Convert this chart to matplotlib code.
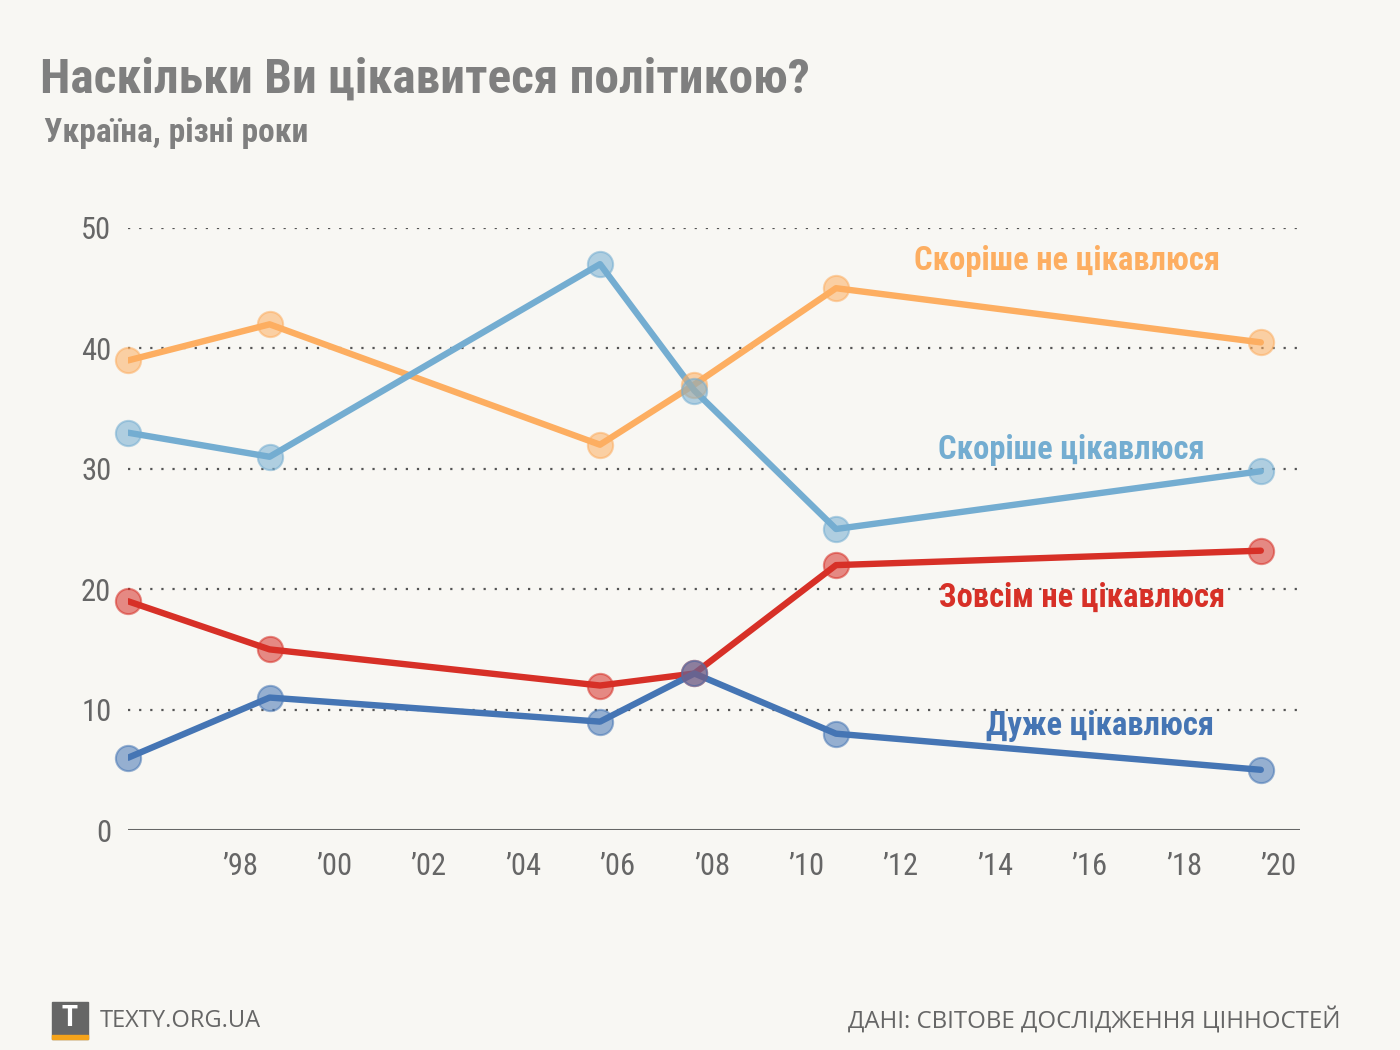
import matplotlib
matplotlib.use('Agg')
import matplotlib.pyplot as plt
from matplotlib import font_manager
from matplotlib.patches import Rectangle
import numpy as np

# Survey years (World Values Survey / EVS waves, Ukraine)
years = [1996, 1999, 2006, 2008, 2011, 2020]

# Share of respondents, %
very = [6, 11, 9, 13, 8, 5]                    # Дуже цікавлюся
rather = [33, 31, 47, 36.5, 25, 29.8]          # Скоріше цікавлюся
rather_not = [39, 42, 32, 37, 45, 40.5]        # Скоріше не цікавлюся
not_at_all = [19, 15, 12, 13, 22, 23.2]        # Зовсім не цікавлюся

series_names = ['Скоріше не цікавлюся', 'Скоріше цікавлюся',
                'Зовсім не цікавлюся', 'Дуже цікавлюся']
series_colors = ['#fdae61', '#74add1', '#d73027', '#4575b4']

tick_years = list(range(1998, 2021, 2))
tick_labels = ['\u2019' + str(y)[2:] for y in tick_years]
y_ticks = [0, 10, 20, 30, 40, 50]

BG = '#f8f7f3'

# pick a narrow font if one is around
names = set(f.name for f in font_manager.fontManager.ttflist)
narrow = 'DejaVu Sans'
for cand in ['Liberation Sans Narrow', 'Roboto Condensed', 'Open Sans Condensed',
             'Noto Sans Condensed', 'DejaVu Sans Condensed']:
    if cand in names:
        narrow = cand
        break
regular = 'Open Sans' if 'Open Sans' in names else 'DejaVu Sans'

plt.rcParams['font.family'] = [narrow, 'DejaVu Sans']

fig = plt.figure(figsize=(14, 10.5), dpi=100, facecolor=BG)
ax = fig.add_axes([128 / 1400, 220 / 1050, 1172 / 1400, 602 / 1050])
ax.set_facecolor(BG)

ax.set_xlim(1996, 2020.83)
ax.set_ylim(0, 50)

# dotted grid lines + solid baseline
for v in y_ticks[1:]:
    ax.axhline(v, color='#555555', lw=1.6, ls=(0, (1, 4)), zorder=1)
ax.axhline(0, color='#666666', lw=2.2, zorder=1)

data = [rather_not, rather, not_at_all, very]
for vals, col in zip(data, series_colors):
    ax.plot(years, vals, color=col, lw=4.6, solid_capstyle='round',
            solid_joinstyle='round', zorder=3)
for vals, col in zip(data, series_colors):
    ax.scatter(years, vals, s=330, color=col, alpha=0.55, edgecolor=col,
               linewidth=1.5, zorder=4, clip_on=False)

# series labels
label_pos = [(2019.13, 47.3), (2018.8, 31.6), (2019.24, 19.3), (2019.0, 8.6)]
for name, col, (lx, ly) in zip(series_names, series_colors, label_pos):
    ax.text(lx, ly, name, color=col, fontsize=23.5, fontweight='bold',
            ha='right', va='center')

# ticks: labels sit a little to the right of the year mark
ax.set_xticks([y + 0.37 for y in tick_years])
ax.set_xticklabels(tick_labels)
ax.set_yticks(y_ticks)
ax.tick_params(axis='both', length=0, labelsize=22, colors='#666666')
ax.tick_params(axis='x', pad=16)
ax.tick_params(axis='y', pad=12)
for s in ax.spines.values():
    s.set_visible(False)

# titles
fig.text(40 / 1400, 1 - 80 / 1050, 'Наскільки Ви цікавитеся політикою?',
         fontsize=35.6, fontweight='bold', color='#7f7f7f', va='center', ha='left')
fig.text(44 / 1400, 1 - 133 / 1050, 'Україна, різні роки',
         fontsize=24, fontweight='bold', color='#7f7f7f', va='center', ha='left')

# footer logo
fig.patches.append(Rectangle((52 / 1400, 1 - 1039 / 1050), 36 / 1400, 37 / 1050,
                             transform=fig.transFigure, color='#666666', zorder=1))
fig.patches.append(Rectangle((52 / 1400, 1 - 1039 / 1050), 36 / 1400, 4 / 1050,
                             transform=fig.transFigure, color='#f5a31a', zorder=2))
fig.text(70 / 1400, 1 - 1019 / 1050, 'T', color='white', fontsize=20,
         fontweight='bold', ha='center', va='center', family=[regular, 'DejaVu Sans'])
fig.text(100 / 1400, 1 - 1021 / 1050, 'TEXTY.ORG.UA', color='#666666',
         fontsize=17, ha='left', va='center', family=[regular, 'DejaVu Sans'])
fig.text(1340 / 1400, 1 - 1021 / 1050, 'ДАНІ: СВІТОВЕ ДОСЛІДЖЕННЯ ЦІННОСТЕЙ',
         color='#666666', fontsize=17.3, ha='right', va='center',
         family=[regular, 'DejaVu Sans'])

fig.savefig('out.png', dpi=100, facecolor=BG)
